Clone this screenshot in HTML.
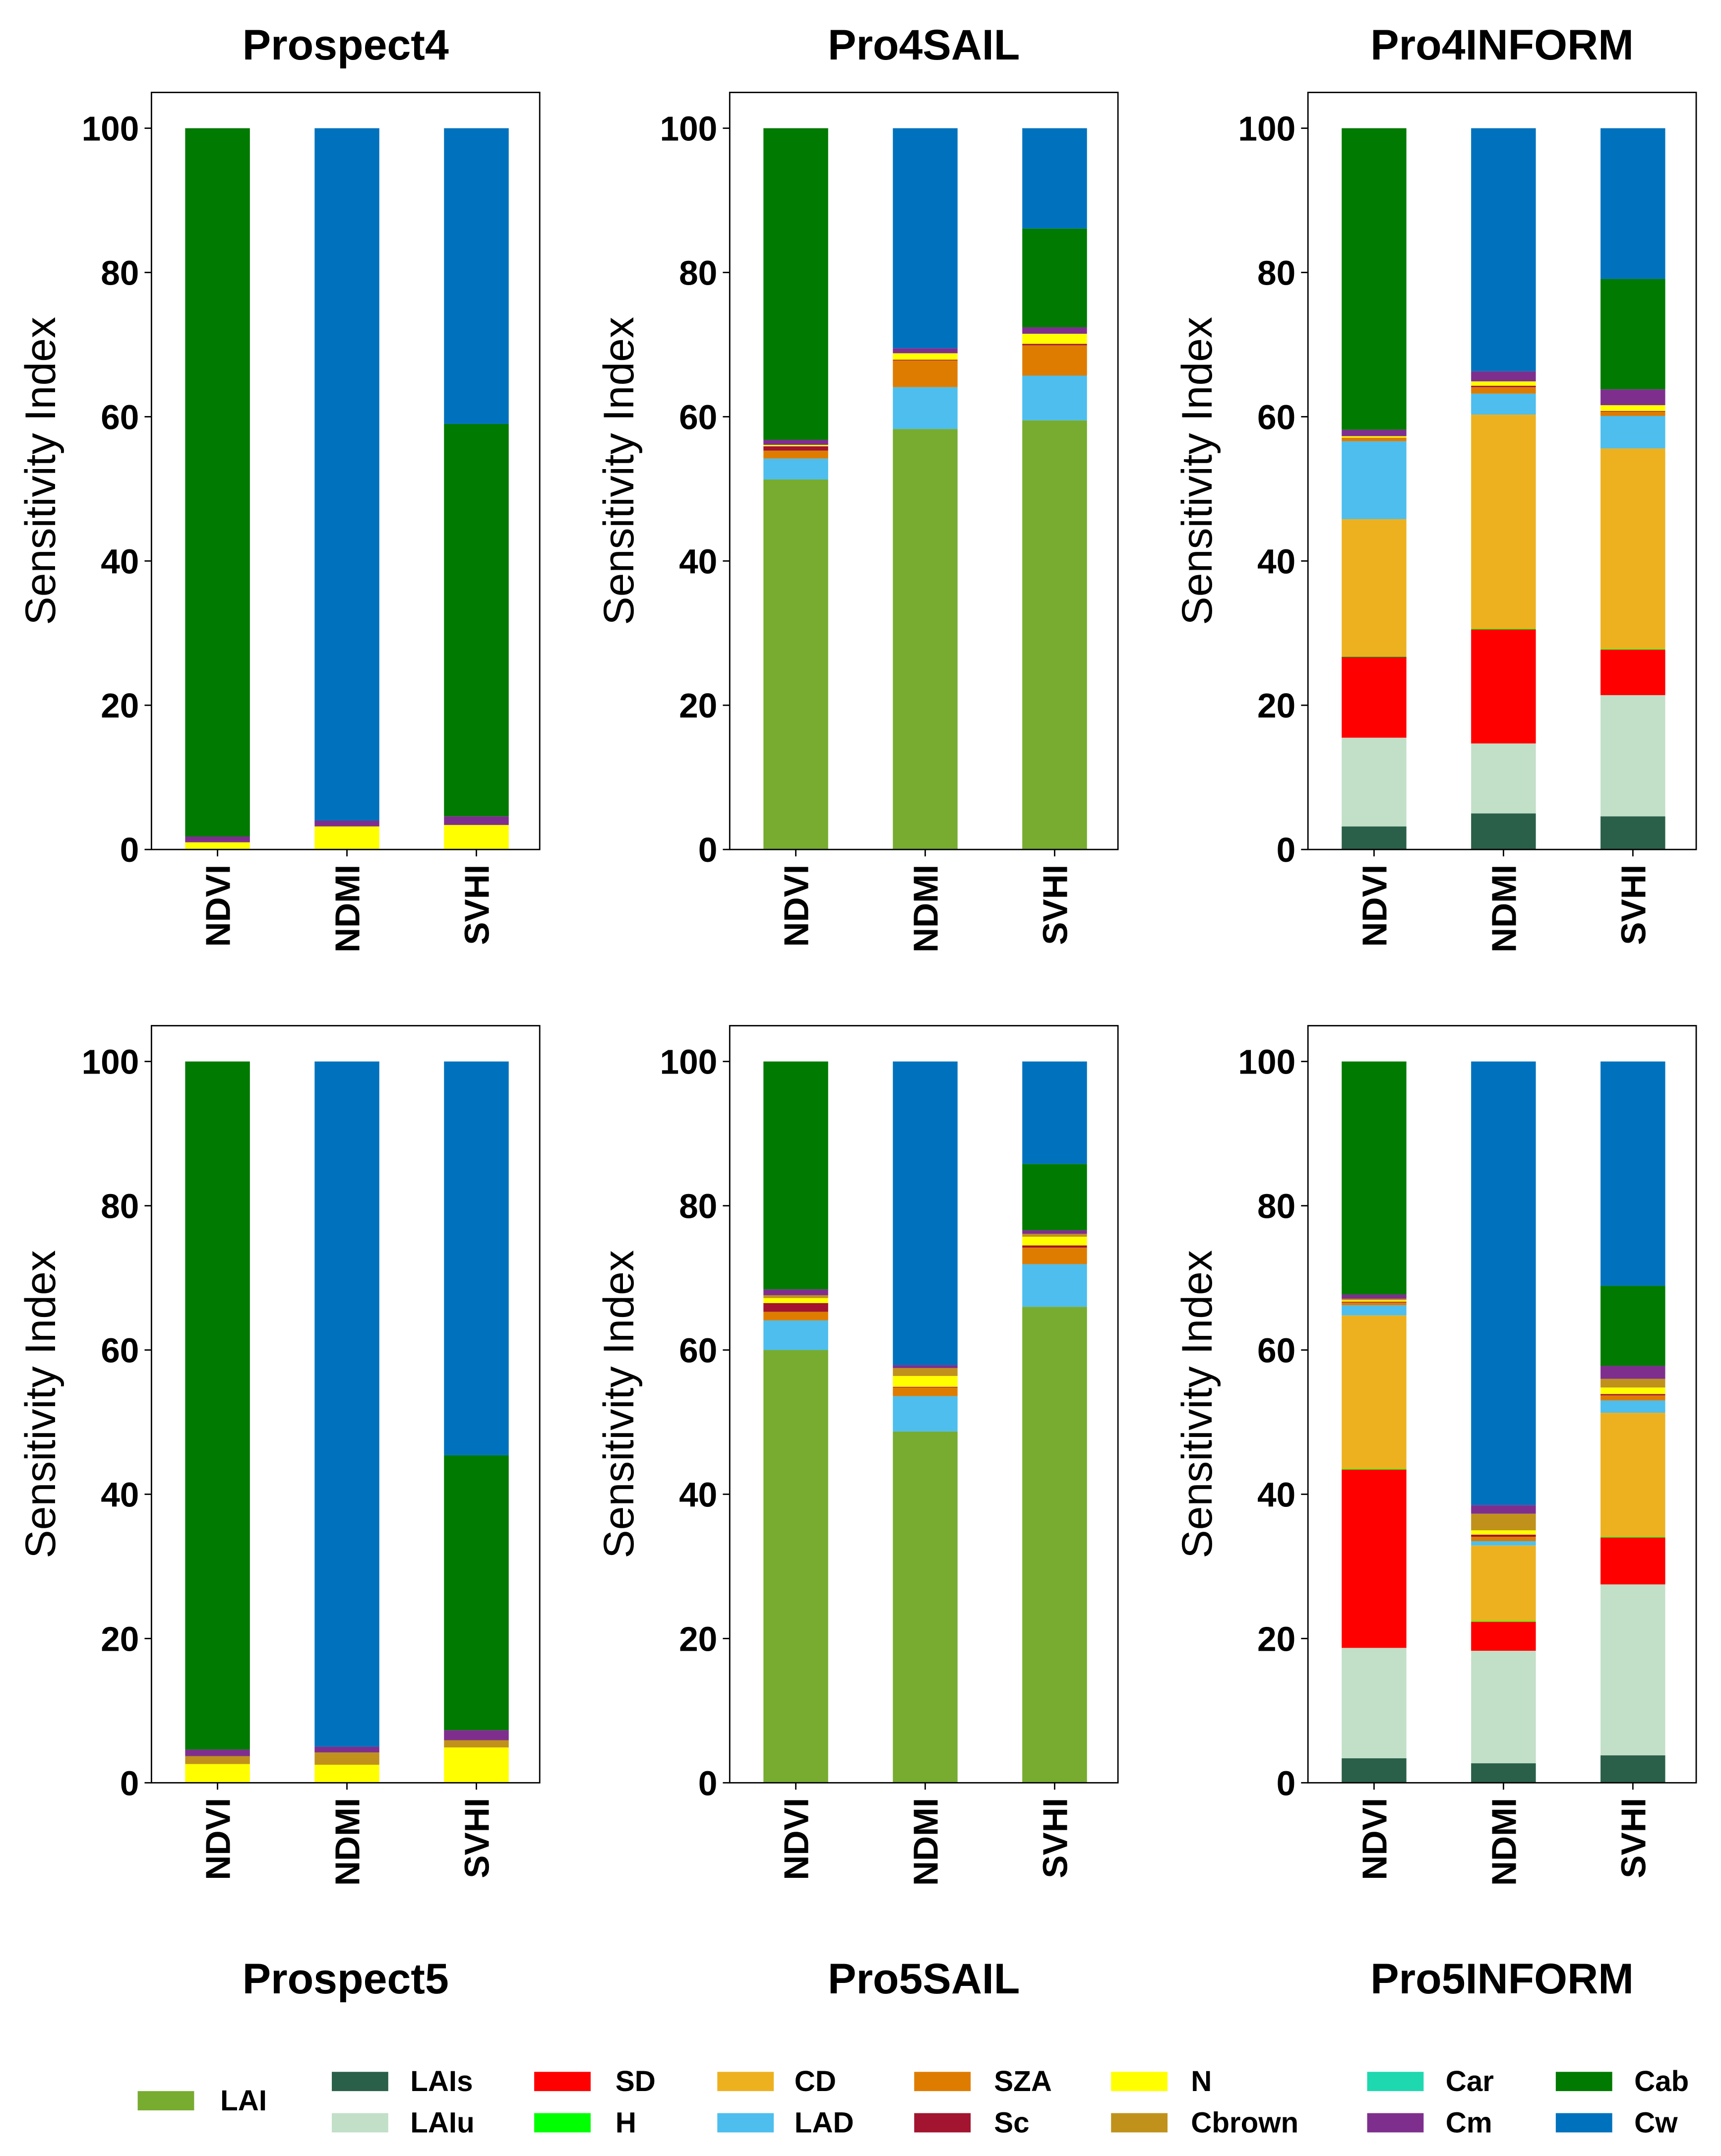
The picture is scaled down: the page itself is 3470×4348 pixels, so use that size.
<!DOCTYPE html>
<html><head><meta charset="utf-8"><style>
html,body{margin:0;padding:0;background:#fff}
svg{display:block}
text{font-family:"Liberation Sans",Arial,sans-serif}
</style></head><body>
<svg id="fig" xmlns="http://www.w3.org/2000/svg" width="3470" height="4348" viewBox="0 0 1250 1566"></svg>
<script>
const categories = ["NDVI","NDMI","SVHI"];
const seriesNames = ["LAI","LAIs","LAIu","SD","H","CD","LAD","SZA","Sc","N","Cbrown","Car","Cm","Cab","Cw"];
const seriesColors = ["#77AC30","#2A6049","#C2DFC8","#FF0000","#00FF00","#EDB120","#4DBEEE","#DE7C00","#A2142F","#FFFF00","#C0921C","#1ED8B0","#7E2F8E","#007A00","#0072BD"];
const yTicks = [0,20,40,60,80,100];
const panelTitles = ["Prospect4","Pro4SAIL","Pro4INFORM","Prospect5","Pro5SAIL","Pro5INFORM"];

const prospect4 = {N:[1,3.2,3.4], Cm:[0.8,0.8,1.2], Cab:[98.2,0,54.4], Cw:[0,96,41]};
const pro4sail = {LAI:[51.3,58.3,59.5], LAD:[2.9,5.8,6.2], SZA:[1.1,3.7,4.2], Sc:[0.6,0.1,0.2], N:[0.2,0.9,1.4], Cm:[0.7,0.7,0.9], Cab:[43.2,0,13.7], Cw:[0,30.5,13.9]};
const pro4inform = {LAIs:[3.2,5.0,4.6], LAIu:[12.3,9.7,16.8], SD:[11.2,15.8,6.3], H:[0.1,0.1,0.1], CD:[19.0,29.7,27.8], LAD:[10.8,2.9,4.5], SZA:[0.5,0.9,0.6], Sc:[0,0.2,0.1], N:[0.2,0.6,0.8], Cm:[0.9,1.4,2.2], Cab:[41.8,0,15.3], Cw:[0,33.7,20.9]};
const prospect5 = {N:[2.6,2.5,4.9], Cbrown:[1.1,1.7,1.0], Cm:[0.9,0.8,1.4], Cab:[95.4,0,38.1], Cw:[0,95,54.6]};
const pro5sail = {LAI:[60.0,48.7,66.0], LAD:[4.1,4.9,5.9], SZA:[1.2,1.2,2.3], Sc:[1.2,0.1,0.3], N:[0.7,1.5,1.2], Cbrown:[0.4,1.1,0.4], Cm:[0.8,0.4,0.5], Cab:[31.6,0,9.2], Cw:[0,42.1,14.2]};
const pro5inform = {LAIs:[3.4,2.7,3.8], LAIu:[15.3,15.6,23.7], SD:[24.7,4.0,6.5], H:[0.1,0.1,0.1], CD:[21.3,10.5,17.2], LAD:[1.4,0.6,1.7], SZA:[0.4,0.6,0.7], Sc:[0.1,0.3,0.2], N:[0.2,0.6,0.9], Cbrown:[0.2,2.3,1.2], Cm:[0.6,1.2,1.8], Cab:[32.3,0,11.1], Cw:[0,61.5,31.1]};
const panelData = [prospect4,pro4sail,pro4inform,prospect5,pro5sail,pro5inform];

const NS="http://www.w3.org/2000/svg";
const svg=document.getElementById('fig');
function mk(tag,attrs,parent){const e=document.createElementNS(NS,tag);for(const k in attrs)e.setAttribute(k,attrs[k]);(parent||svg).appendChild(e);return e;}

const colX=[110,530,950], W=282, H=550;
const rowTop=[67,745], rowBase=[617,1295];
const unit=5.24;

panelData.forEach((data,p)=>{
  const col=p%3,row=Math.floor(p/3);
  const x0=colX[col], base=rowBase[row], top=rowTop[row];
  const yScale=v=>base-v*unit;
  const xScale=i=>x0+48+i*94;
  const g=mk('g',{});
  
  
  categories.forEach((c,i)=>{
    let cum=0;
    seriesNames.forEach((s,si)=>{
      const vals=data[s]; if(!vals) return;
      const v=vals[i]; if(!v) return;
      const r=mk('rect',{x:xScale(i)-23.5,y:yScale(cum+v),width:47,height:v*unit,fill:seriesColors[si]},g);
      
      
      cum+=v;
    });
    const t=mk('text',{x:0,y:0,transform:`translate(${xScale(i)+9},${base+11}) rotate(-90)`,'text-anchor':'end','font-size':25,'font-weight':'bold'},g);
    t.textContent=c;
    
    
  });
  const fr=mk('rect',{x:x0,y:top,width:W,height:H,fill:'none',stroke:'#000','stroke-width':1},g);
  
  
  yTicks.forEach(v=>{
    mk('line',{x1:x0-5,x2:x0,y1:yScale(v),y2:yScale(v),stroke:'#000','stroke-width':1},g);
    const t=mk('text',{x:x0-9,y:yScale(v)+9,'text-anchor':'end','font-size':25,'font-weight':'bold'},g);
    t.textContent=v;
    
    
  });
  categories.forEach((c,i)=>{mk('line',{x1:xScale(i),x2:xScale(i),y1:base,y2:base+5,stroke:'#000','stroke-width':1},g);});
  const yl=mk('text',{x:0,y:0,transform:`translate(${x0-70},${(top+base)/2}) rotate(-90)`,'text-anchor':'middle','font-size':31},g);
  yl.textContent='Sensitivity Index';
  
  
  const ty=row===0?43:1448;
  const tt=mk('text',{x:x0+W/2,y:ty,'text-anchor':'middle','font-size':31,'font-weight':'bold'},g);
  tt.textContent=panelTitles[p];
  
  
});

// legend
const legPos={LAI:[100,1519,160,1533],LAIs:[241,1505,298,1519],LAIu:[241,1535,298,1549],SD:[388,1505,447,1519],H:[388,1535,447,1549],CD:[521,1505,577,1519],LAD:[521,1535,577,1549],SZA:[664,1505,722,1519],Sc:[664,1535,722,1549],N:[807,1505,865,1519],Cbrown:[807,1535,865,1549],Car:[993,1505,1050,1519],Cm:[993,1535,1050,1549],Cab:[1130,1505,1187,1519],Cw:[1130,1535,1187,1549]};
const lg=mk('g',{});


seriesNames.forEach((s,si)=>{
  const [sx,sy,tx,tyy]=legPos[s];
  const e=mk('g',{},lg);
  
  
  mk('rect',{x:sx,y:sy,width:41,height:14,fill:seriesColors[si]},e);
  const t=mk('text',{x:tx,y:tyy,'font-size':21,'font-weight':'bold'},e);
  t.textContent=s;
});
</script>
</body></html>
